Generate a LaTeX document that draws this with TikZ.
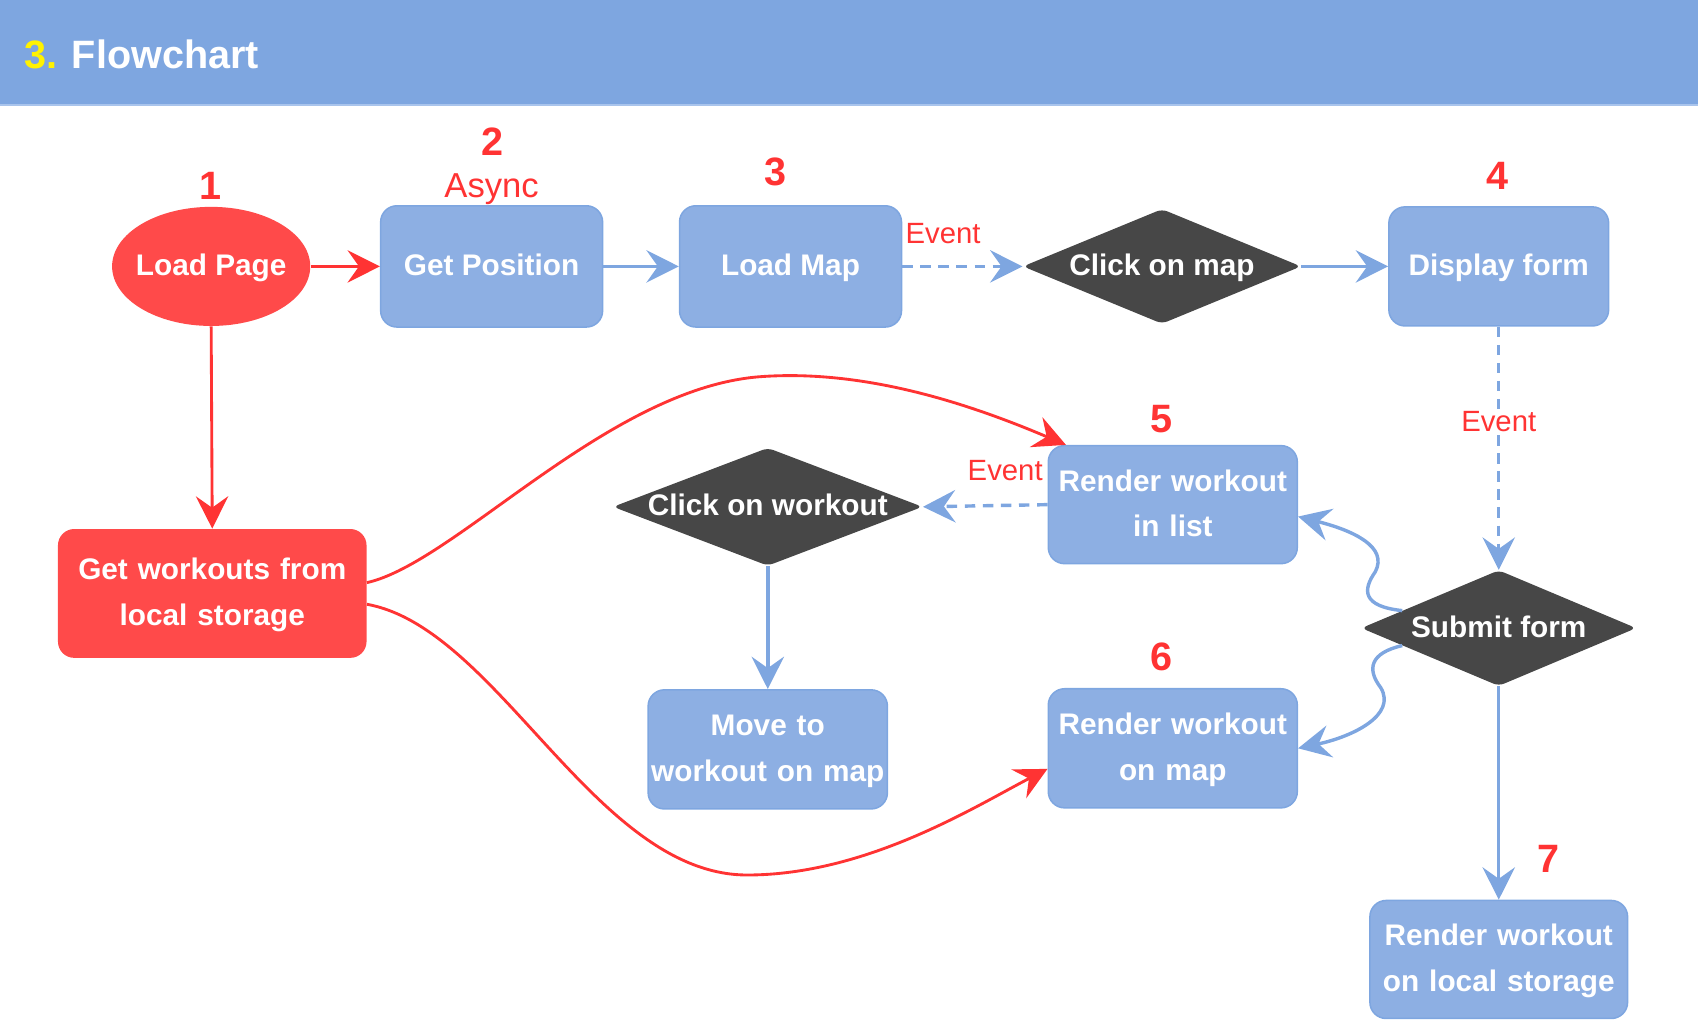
\documentclass[tikz,border=0pt]{standalone}
\usepackage{fontspec}
\setmainfont{Liberation Sans}
\usetikzlibrary{arrows.meta,shapes.geometric,calc}

\definecolor{headblue}{HTML}{7EA6E0}
\definecolor{headline}{HTML}{A9C4EC}
\definecolor{boxblue}{HTML}{8DAFE3}
\definecolor{lineblue}{HTML}{7EA6E0}
\definecolor{boxred}{HTML}{FF4A4A}
\definecolor{textred}{HTML}{FF3333}
\definecolor{decgray}{HTML}{474747}

\tikzset{
  >={Stealth[length=17pt,width=17pt,inset=6pt]},
  boxtext/.style={text=white,font=\fontsize{15.65}{23.9}\selectfont\bfseries,align=center,inner sep=2pt},
  twoline/.style={text width=#1,execute at begin node=\strut,execute at end node=\strut},
  bluebox/.style={boxtext,rectangle,rounded corners=0.3cm,fill=boxblue,draw=lineblue,line width=0.8pt},
  redbox/.style={boxtext,rectangle,rounded corners=0.3cm,fill=boxred},
  decision/.style={diamond,fill=decgray,rounded corners=3pt,inner sep=0pt},
  stepnum/.style={text=textred,font=\fontsize{20.8}{24}\selectfont\bfseries},
  eventlbl/.style={text=textred,font=\fontsize{15.4}{18}\selectfont,inner sep=1pt},
  blueflow/.style={->,lineblue,line width=1.8pt},
  redflow/.style={->,textred,line width=1.5pt},
  eventflow/.style={blueflow,dash pattern=on 5.5pt off 4pt}
}

\begin{document}
\begin{tikzpicture}[x=0.02cm,y=-0.02cm]
  \useasboundingbox (0,0) rectangle (1568,944);

  % Header bar
  \fill[headblue] (0,0) rectangle (1568,97);
  \draw[headline,line width=0.8pt] (0,97) -- (1568,97);
  \node[anchor=west,inner sep=0pt,font=\fontsize{20.8}{24}\selectfont\bfseries] (title) at (22,50)
    {\textcolor{yellow}{3.} \textcolor{white}{Flowchart}};

  % Top row
  \node[ellipse,fill=boxred,inner sep=0pt,minimum width=3.66cm,minimum height=2.2cm] (load) at (195,246) {};
  \node[boxtext] (loadtxt) at (load) {Load Page\strut};
  \node[bluebox,minimum width=4.1cm,minimum height=2.24cm] (getpos) at (454,246) {Get Position\strut};
  \node[bluebox,minimum width=4.1cm,minimum height=2.24cm] (lmap) at (730,246) {Load Map\strut};
  \node[decision,minimum width=5.14cm,minimum height=2.12cm] (clickmap) at (1073,246) {};
  \node[boxtext] (clickmaptxt) at (clickmap) {Click on map\strut};
  \node[bluebox,minimum width=4.06cm,minimum height=2.2cm] (dform) at (1384,246) {Display form\strut};

  % Lower part
  \node[redbox,twoline=5.2cm,minimum width=5.7cm,minimum height=2.38cm] (getw) at (196,548) {Get workouts from\\local storage};
  \node[decision,minimum width=5.72cm,minimum height=2.18cm] (clickw) at (709,468) {};
  \node[boxtext] (clickwtxt) at (clickw) {Click on workout\strut};
  \node[bluebox,twoline=4.36cm,inner sep=0pt,minimum width=4.42cm,minimum height=2.2cm] (move) at (709,692) {Move to\\workout on map};
  \node[bluebox,twoline=4.4cm,minimum width=4.6cm,minimum height=2.18cm] (rlist) at (1083,466) {Render workout\\in list};
  \node[bluebox,twoline=4.4cm,minimum width=4.6cm,minimum height=2.2cm] (rmap) at (1083,691) {Render workout\\on map};
  \node[decision,minimum width=5.08cm,minimum height=2.14cm] (submit) at (1384,580) {};
  \node[boxtext] (submittxt) at (submit) {Submit form\strut};
  \node[bluebox,twoline=4.6cm,minimum width=4.76cm,minimum height=2.18cm] (rlocal) at (1384,886) {Render workout\\on local storage};

  % Step numbers
  \foreach \n/\x/\y in {1/194/172,2/455/131,3/716/159,4/1383/162,5/1073/387,6/1073/607,7/1430/793}
    \node[stepnum] (num\n) at (\x,\y) {\n};
  \node[text=textred,font=\fontsize{18.2}{20}\selectfont] (async) at (454,175) {Async};

  % Straight connectors
  \draw[redflow] (load.east) -- (getpos.west);
  \draw[redflow] (load.south) -- (getw.north);
  \draw[blueflow] (getpos.east) -- (lmap.west);
  \draw[eventflow] (lmap.east) -- (clickmap.west) node[eventlbl,pos=0.34,yshift=0.6cm] (ev1) {Event};
  \draw[blueflow] (clickmap.east) -- (dform.west);
  \draw[eventflow] (dform.south) -- (submit.north) node[eventlbl,pos=0.39,fill=white] (ev2) {Event};
  \draw[eventflow] (rlist.west) -- (clickw.east) node[eventlbl,pos=0.34,yshift=0.64cm] (ev3) {Event};
  \draw[blueflow] (clickw.south) -- (move.north);
  \draw[blueflow] (submit.south) -- (rlocal.north);

  % Curved connectors
  \draw[blueflow] ($(submit.west)!0.3!(submit.north)$) .. controls (1258,560) and (1258,545) .. (1270,528)
    .. controls (1282,505) and (1250,490) .. ([yshift=-0.22cm]rlist.east);
  \draw[blueflow] ($(submit.west)!0.3!(submit.south)$) .. controls (1265,603) and (1262,618) .. (1275,635)
    .. controls (1290,660) and (1250,680) .. (rmap.east);
  \draw[redflow] ([yshift=0.2cm]getw.east) .. controls (420,520) and (560,360) .. (700,348)
    .. controls (800,340) and (900,375) .. ([xshift=0.34cm]rlist.north west);
  \draw[redflow] ([yshift=-0.2cm]getw.east) .. controls (460,580) and (550,808) .. (690,808)
    .. controls (800,808) and (900,745) .. ([yshift=-0.38cm]rmap.west);
\end{tikzpicture}
\end{document}
